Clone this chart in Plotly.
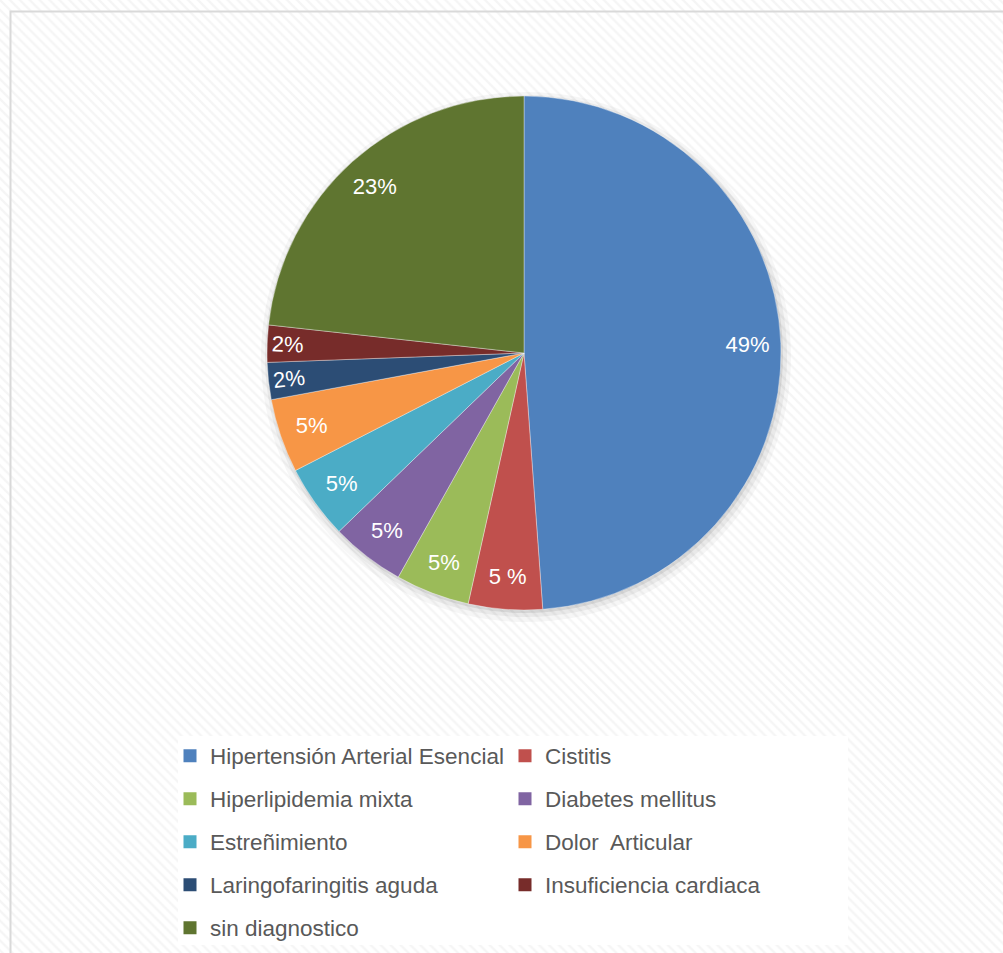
import plotly.graph_objects as go

labels = ["Hipertensión Arterial Esencial", "Cistitis", "Hiperlipidemia mixta",
          "Diabetes mellitus", "Estreñimiento", "Dolor  Articular",
          "Laringofaringitis aguda", "Insuficiencia cardiaca", "sin diagnostico"]
values = [21, 2, 2, 2, 2, 2, 1, 1, 10]
text_labels = ["49%", "5 %", "5%", "5%", "5%", "5%", "2%", "2%", "23%"]
colors = ["#4F81BD", "#C0504D", "#9BBB59", "#8064A2", "#4BACC6",
          "#F79646", "#2C4D75", "#772C2A", "#5F7530"]

W, H = 1003, 953
cx, cy, r = 524, 353, 257


def dom(dx=0, dy=0, dr=0):
    rr = r + dr
    return dict(x=[(cx + dx - rr) / W, (cx + dx + rr) / W],
                y=[(H - cy - dy - rr) / H, (H - cy - dy + rr) / H])


fig = go.Figure()

# hatched background
fig.add_trace(go.Scatter(
    x=[0, 1, 1, 0, 0], y=[0, 0, 1, 1, 0], mode="lines", fill="toself",
    line=dict(width=0), fillcolor="white",
    fillpattern=dict(shape="\\", fgcolor="#ececec", bgcolor="#ffffff",
                     size=7, solidity=0.35),
    hoverinfo="skip", showlegend=False))

# white legend panel
lx0, lx1, ly0, ly1 = 178, 848, 736, 945
fig.add_trace(go.Scatter(
    x=[lx0 / W, lx1 / W, lx1 / W, lx0 / W, lx0 / W],
    y=[1 - ly1 / H, 1 - ly1 / H, 1 - ly0 / H, 1 - ly0 / H, 1 - ly1 / H],
    mode="lines", fill="toself", line=dict(width=0), fillcolor="white",
    hoverinfo="skip", showlegend=False))

# soft shadow
for dr, dx, dy, a in [(8, 2, 4, 0.035), (4, 2, 3, 0.05), (1, 1, 2, 0.08)]:
    fig.add_trace(go.Pie(values=[1], marker=dict(colors=[f"rgba(0,0,0,{a})"], line=dict(width=0)),
                         textinfo="none", hoverinfo="skip", showlegend=False, sort=False,
                         domain=dom(dx, dy, dr)))

# main pie
fig.add_trace(go.Pie(
    labels=labels, values=values, textinfo="none",
    sort=False, direction="clockwise", rotation=0,
    marker=dict(colors=colors, line=dict(color="rgba(255,255,255,0.45)", width=0.8)),
    domain=dom(), hoverinfo="label+percent", showlegend=False,
))

# labels placed in outer ring (wide slices horizontal, thin slices radial)
total = sum(values)
thin = [v / total < 0.03 for v in values]
text_wide = ["" if t else s for s, t in zip(text_labels, thin)]
text_thin = [s if t else "" for s, t in zip(text_labels, thin)]
for txt, orient in [(text_wide, "horizontal"), (text_thin, "radial")]:
    fig.add_trace(go.Pie(
        labels=labels, values=values, text=txt, textinfo="text", hole=0.74,
        sort=False, direction="clockwise", rotation=0,
        marker=dict(colors=["rgba(0,0,0,0)"] * len(values), line=dict(width=0)),
        textposition="inside", insidetextorientation=orient,
        textfont=dict(color="white", size=22, family="Liberation Sans"),
        domain=dom(), hoverinfo="skip", showlegend=False,
    ))

# legend entries, two per row
row_centers = [756, 799, 842, 885, 928]
legend_names = ["legend", "legend2", "legend3", "legend4", "legend5"]
for i, (lab, col) in enumerate(zip(labels, colors)):
    fig.add_trace(go.Scatter(
        x=[None], y=[None], mode="markers", name=lab,
        marker=dict(symbol="square", size=13, color=col),
        legend=legend_names[i // 2]))

layout_legends = {}
for name, yc in zip(legend_names, row_centers):
    layout_legends[name] = dict(
        orientation="h", x=170 / W, y=1 - yc / H, xanchor="left", yanchor="middle",
        bgcolor="rgba(0,0,0,0)", entrywidth=290, entrywidthmode="pixels",
        font=dict(size=22.5, color="#595959", family="Liberation Sans"),
        itemclick=False, itemdoubleclick=False)

fig.update_layout(
    width=W, height=H,
    margin=dict(l=0, r=0, t=0, b=0),
    paper_bgcolor="white", plot_bgcolor="white",
    xaxis=dict(range=[0, 1], visible=False, domain=[0, 1], fixedrange=True),
    yaxis=dict(range=[0, 1], visible=False, domain=[0, 1], fixedrange=True),
    showlegend=True,
    shapes=[dict(type="rect", xref="paper", yref="paper",
                 x0=10.5 / W, x1=1.01, y0=-0.01, y1=1 - 11.5 / H,
                 line=dict(color="#d9d9d9", width=2), layer="above")],
    **layout_legends,
)

fig.write_html("out.html", config={"displayModeBar": False},
               post_script="document.body.style.margin='0';")
